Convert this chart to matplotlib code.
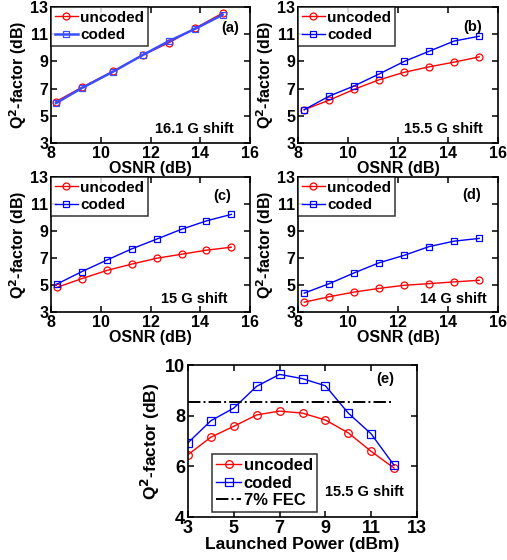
import matplotlib
matplotlib.use("Agg")
import matplotlib.pyplot as plt

# panel (a) 16.1 G shift
osnr_a = [8.2, 9.25, 10.5, 11.7, 12.75, 13.8, 14.9]
uncoded_a = [6.05, 7.1, 8.28, 9.48, 10.38, 11.45, 12.55]
coded_a = [5.93, 7.05, 8.25, 9.48, 10.5, 11.4, 12.43]

# panels (b)-(d) share the OSNR grid
osnr_bcd = [8.25, 9.25, 10.25, 11.25, 12.25, 13.25, 14.25, 15.25]
uncoded_b = [5.45, 6.15, 6.95, 7.65, 8.2, 8.6, 8.95, 9.33]
coded_b = [5.45, 6.45, 7.2, 8.08, 9.0, 9.75, 10.5, 10.85]
uncoded_c = [4.83, 5.48, 6.08, 6.55, 6.98, 7.28, 7.58, 7.8]
coded_c = [5.08, 6.0, 6.85, 7.68, 8.4, 9.13, 9.75, 10.23]
uncoded_d = [3.73, 4.13, 4.48, 4.75, 4.98, 5.1, 5.23, 5.35]
coded_d = [4.4, 5.1, 5.9, 6.65, 7.2, 7.85, 8.25, 8.45]

# panel (e) launched power sweep
power_e = [3, 4, 5, 6, 7, 8, 9, 10, 11, 12]
uncoded_e = [6.46, 7.15, 7.58, 8.03, 8.18, 8.1, 7.83, 7.32, 6.59, 5.93]
coded_e = [6.93, 7.8, 8.3, 9.16, 9.63, 9.46, 9.18, 8.1, 7.28, 6.04]
fec_x = [3, 12]
fec_y = [8.52, 8.52]

plt.rcParams["font.family"] = ["Liberation Sans", "DejaVu Sans"]
plt.rcParams["font.weight"] = "bold"
plt.rcParams["axes.labelweight"] = "bold"

fig = plt.figure(figsize=(5.07, 5.60), dpi=100)

W, H = 507.0, 560.0


def box(x0, x1, y0, y1):
    return [x0 / W, 1 - y1 / H, (x1 - x0) / W, (y1 - y0) / H]


def style(ax, fs):
    ax.tick_params(direction="in", top=True, right=True, length=4, width=1.1,
                   labelsize=fs, pad=2)
    for s in ax.spines.values():
        s.set_linewidth(1.2)


panels = [
    ("(a)", "16.1 G shift", osnr_a, uncoded_a, coded_a, box(51, 250, 7, 143), (0.9, 0.845), (0.92, 0.1)),
    ("(b)", "15.5 G shift", osnr_bcd, uncoded_b, coded_b, box(298, 498, 7, 143), (0.875, 0.85), (0.925, 0.1)),
    ("(c)", "15 G shift", osnr_bcd, uncoded_c, coded_c, box(51, 250, 177, 312), (0.86, 0.86), (0.885, 0.096)),
    ("(d)", "14 G shift", osnr_bcd, uncoded_d, coded_d, box(298, 498, 177, 312), (0.87, 0.87), (0.945, 0.096)),
]

for tag, shift, x, unc, cod, rect, tagpos, shiftpos in panels:
    ax = fig.add_axes(rect)
    ax.plot(x, unc, "-o", color="red", lw=1, ms=5, mfc="none", mew=0.9, label="uncoded")
    if tag == "(a)":
        ax.plot(x, cod, "-s", color="#3a4dff", lw=1.8, ms=5, mfc="none", mew=0.9, label="coded")
    else:
        ax.plot(x, cod, "-s", color="blue", lw=1, ms=5, mfc="none", mew=0.9, label="coded")
    ax.set_xlim(8, 16)
    ax.set_ylim(3, 13)
    ax.set_xticks([8, 10, 12, 14, 16])
    ax.set_yticks([3, 5, 7, 9, 11, 13])
    ax.set_xlabel("OSNR (dB)", fontsize=11.5, labelpad=0)
    ax.set_ylabel("Q$^\\mathbf{2}$-factor (dB)", fontsize=11.5, labelpad=1)
    style(ax, 11.5)
    leg = ax.legend(loc="upper left", borderaxespad=0, fontsize=11, fancybox=False,
                    handlelength=1.5, handletextpad=0.15, borderpad=0.25, labelspacing=0.2)
    leg.get_frame().set_edgecolor("black")
    leg.get_frame().set_linewidth(1.1)
    ax.text(tagpos[0], tagpos[1], tag, transform=ax.transAxes, ha="center", va="center",
            fontsize=10.5, fontweight="bold")
    ax.text(shiftpos[0], shiftpos[1], shift, transform=ax.transAxes, ha="right", va="center",
            fontsize=10.5, fontweight="bold")

ax = fig.add_axes(box(188, 417, 365, 517))
ax.plot(power_e, uncoded_e, "-o", color="red", lw=1, ms=5.5, mfc="none", mew=0.9, label="uncoded")
ax.plot(power_e, coded_e, "-s", color="blue", lw=1, ms=5.5, mfc="none", mew=0.9, label="coded")
ax.plot(fec_x, fec_y, "-.", color="black", lw=1.4, label="7% FEC")
ax.set_xlim(3, 13)
ax.set_ylim(4, 10)
ax.set_xticks([3, 5, 7, 9, 11, 13])
ax.set_yticks([4, 6, 8, 10])
ax.set_xlabel("Launched Power (dBm)", fontsize=12.5, labelpad=0)
ax.set_ylabel("Q$^\\mathbf{2}$-factor (dB)", fontsize=12.5, labelpad=2)
style(ax, 13)
leg = ax.legend(loc="lower left", bbox_to_anchor=(0.105, 0.03), borderaxespad=0, fontsize=12,
                fancybox=False, handlelength=1.5, handletextpad=0.15, borderpad=0.25,
                labelspacing=0.15)
leg.get_frame().set_edgecolor("black")
leg.get_frame().set_linewidth(1.1)
ax.text(0.86, 0.91, "(e)", transform=ax.transAxes, ha="center", va="center",
        fontsize=10.5, fontweight="bold")
ax.text(0.94, 0.165, "15.5 G shift", transform=ax.transAxes, ha="right", va="center",
        fontsize=10.5, fontweight="bold")

fig.savefig("out.png", dpi=100)
